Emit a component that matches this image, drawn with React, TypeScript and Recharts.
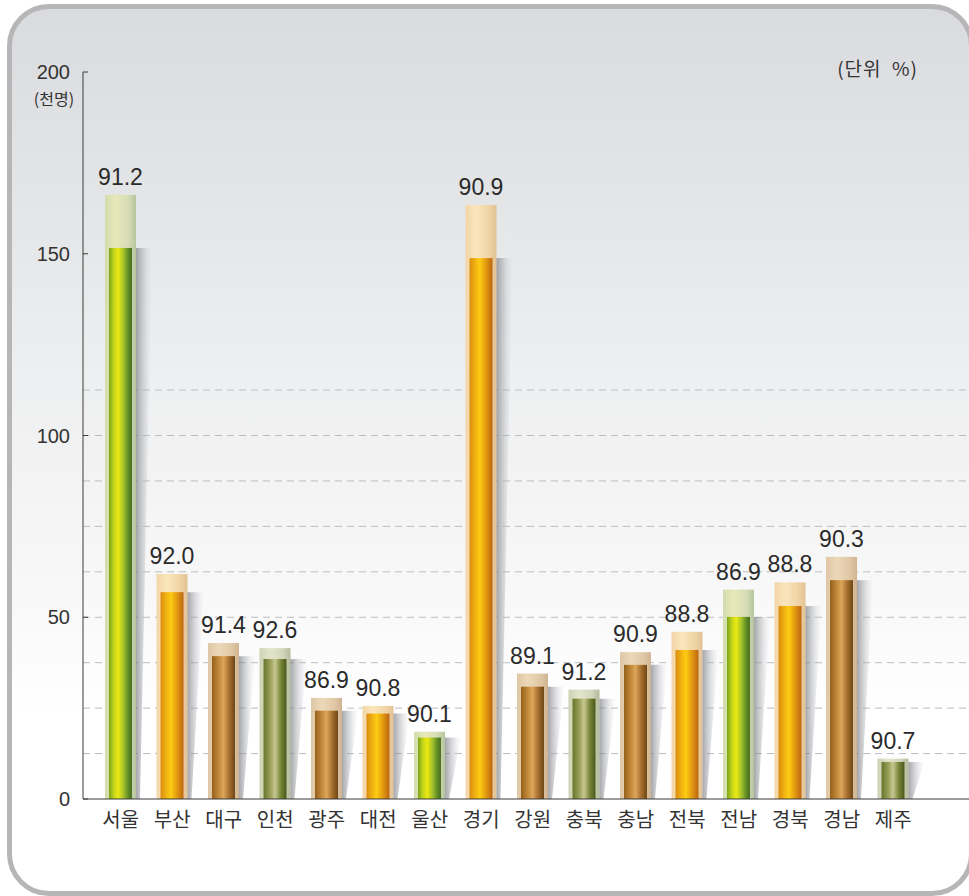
import { BarChart, Bar, XAxis, YAxis, CartesianGrid, LabelList } from "recharts"

// 지역별 인구(천명) - 바깥 막대는 전체, 안쪽 막대는 해당 인원, 라벨은 비율(%)
const REGIONS = ["서울", "부산", "대구", "인천", "광주", "대전", "울산", "경기", "강원", "충북", "충남", "전북", "전남", "경북", "경남", "제주"]
const TOTALS = [166.2, 61.9, 42.9, 41.5, 27.8, 25.6, 18.5, 163.4, 34.5, 30.1, 40.4, 46.0, 57.6, 59.6, 66.6, 11.1]
const INNER = [151.6, 56.9, 39.3, 38.5, 24.3, 23.5, 16.9, 148.8, 30.9, 27.6, 36.9, 41.0, 50.1, 53.1, 60.2, 10.2]
const RATIOS = ["91.2", "92.0", "91.4", "92.6", "86.9", "90.8", "90.1", "90.9", "89.1", "91.2", "90.9", "88.8", "86.9", "88.8", "90.3", "90.7"]
const TONES = ["green", "orange", "brown", "olive", "brown", "orange", "green", "orange", "brown", "olive", "brown", "orange", "green", "orange", "brown", "olive"]
const Y_TICKS = [0, 50, 100, 150, 200]
const GRID_VALUES = [12.5, 25, 37.5, 50, 62.5, 75, 87.5, 100, 112.5]

const data = REGIONS.map((name, i) => ({
  name,
  total: TOTALS[i],
  inner: INNER[i],
  ratio: RATIOS[i],
}))

const NUM_FONT = "'Liberation Sans Narrow', 'Liberation Sans', Arial, sans-serif"
const KR_FONT = "'Noto Sans CJK KR', 'Noto Sans', sans-serif"

const deep: Record<string, [number, string][]> = {
  green: [[0, "#7aa41c"], [0.22, "#c4d61a"], [0.4, "#ece912"], [0.62, "#a6c42a"], [0.85, "#5c8a24"], [1, "#4a6e1e"]],
  orange: [[0, "#dc8c10"], [0.28, "#f2b612"], [0.45, "#fccc12"], [0.7, "#e49c10"], [1, "#bc6612"]],
  brown: [[0, "#94601a"], [0.3, "#c48a3c"], [0.5, "#dca65a"], [0.75, "#a66e2e"], [1, "#6c4614"]],
  olive: [[0, "#66762a"], [0.3, "#9aa05a"], [0.5, "#c8c892"], [0.75, "#788638"], [1, "#4a581c"]],
}
const pale: Record<string, [number, string][]> = {
  green: [[0, "#d2dcae"], [0.35, "#e8e8ba"], [0.75, "#d6ddb6"], [1, "#b6c49e"]],
  orange: [[0, "#f2d6a8"], [0.35, "#fae6bc"], [0.75, "#f0d4a6"], [1, "#e2c294"]],
  brown: [[0, "#dec6a6"], [0.35, "#ecd8b8"], [0.75, "#e0c8a6"], [1, "#d0b492"]],
  olive: [[0, "#ccd2b4"], [0.35, "#e4e6cc"], [0.75, "#d2d6ba"], [1, "#b4ba9c"]],
}

function Gradients() {
  return (
    <svg width={0} height={0} style={{ position: "absolute" }}>
      <defs>
        {Object.keys(deep).map((k) => (
          <linearGradient key={"d" + k} id={"deep-" + k} x1="0" y1="0" x2="1" y2="0">
            {deep[k].map(([o, c]) => <stop key={o} offset={o} stopColor={c} />)}
          </linearGradient>
        ))}
        {Object.keys(pale).map((k) => (
          <linearGradient key={"p" + k} id={"pale-" + k} x1="0" y1="0" x2="1" y2="0">
            {pale[k].map(([o, c]) => <stop key={o} offset={o} stopColor={c} />)}
          </linearGradient>
        ))}
        <linearGradient id="shadow" x1="0" y1="0" x2="1" y2="0">
          <stop offset="0" stopColor="#74767c" stopOpacity={0.65} />
          <stop offset="0.45" stopColor="#a0a2a8" stopOpacity={0.4} />
          <stop offset="1" stopColor="#d8dade" stopOpacity={0.05} />
        </linearGradient>
      </defs>
    </svg>
  )
}

function OuterBar(props: any) {
  const { x, y, width, height, index } = props
  return <rect x={x} y={y} width={width} height={height} fill={`url(#pale-${TONES[index]})`} />
}

function InnerBar(props: any) {
  const { x, y, width, height, index } = props
  const right = x + width + 4
  const bottom = y + height
  return (
    <g>
      <polygon
        points={`${right},${y} ${right + 16},${y} ${right + 4},${bottom} ${right},${bottom}`}
        fill="url(#shadow)"
      />
      <rect x={x} y={y} width={width} height={height} fill={`url(#deep-${TONES[index]})`} />
    </g>
  )
}

function RatioLabel(props: any) {
  const { x, y, width, value } = props
  return (
    <text x={x + width / 2} y={y - 10} textAnchor="middle" fontSize={23} fontFamily={NUM_FONT} fill="#2a2a2a">
      {value}
    </text>
  )
}

export default function App() {
  return (
    <div style={{ position: "absolute", left: 0, top: 0, width: 969, height: 896, overflow: "hidden", background: "#fff", fontFamily: KR_FONT }}>
      <Gradients />
      <div
        style={{
          position: "absolute",
          left: 7,
          top: 4,
          width: 967,
          height: 892,
          boxSizing: "border-box",
          border: "5px solid #b6b6b6",
          borderRadius: 42,
          background: "linear-gradient(to bottom, #dadbde 0%, #e4e5e7 22%, #eeeff0 42%, #f8f8f8 66%, #ffffff 80%)",
        }}
      />
      <div style={{ position: "absolute", left: 28, top: 86, width: 52, textAlign: "center", fontSize: 16, color: "#333" }}>
        (천명)
      </div>
      <div style={{ position: "absolute", left: 800, top: 54, width: 118, textAlign: "right", fontSize: 19, letterSpacing: 1, color: "#333", whiteSpace: "pre" }}>
        (단위  %)
      </div>
      <div style={{ position: "absolute", left: 0, top: 0 }}>
        <BarChart width={969} height={896} data={data} margin={{ top: 72, right: 0, bottom: 67, left: 23 }}>
          <CartesianGrid
            xAxisId="outer"
            vertical={false}
            horizontalValues={GRID_VALUES}
            stroke="#bcbdc2"
            strokeDasharray="7 5"
          />
          <XAxis
            xAxisId="outer"
            dataKey="name"
            height={30}
            padding={{ left: 12, right: 50 }}
            tickLine={false}
            tickSize={0}
            tickMargin={14}
            axisLine={{ stroke: "#3a3a3a" }}
            tick={{ fontSize: 20, fill: "#333", fontFamily: KR_FONT }}
            interval={0}
          />
          <XAxis xAxisId="inner" dataKey="name" hide height={0} padding={{ left: 12, right: 50 }} />
          <YAxis
            width={60}
            domain={[0, 200]}
            ticks={Y_TICKS}
            tickSize={-5}
            tickMargin={18}
            axisLine={{ stroke: "#3a3a3a" }}
            tickLine={{ stroke: "#3a3a3a" }}
            tick={{ fontSize: 20, fill: "#333", fontFamily: NUM_FONT }}
            interval={0}
          />
          <Bar xAxisId="outer" dataKey="total" barSize={31} shape={OuterBar} isAnimationActive={false}>
            <LabelList dataKey="ratio" content={RatioLabel} />
          </Bar>
          <Bar xAxisId="inner" dataKey="inner" barSize={23} shape={InnerBar} isAnimationActive={false} />
        </BarChart>
      </div>
    </div>
  )
}
